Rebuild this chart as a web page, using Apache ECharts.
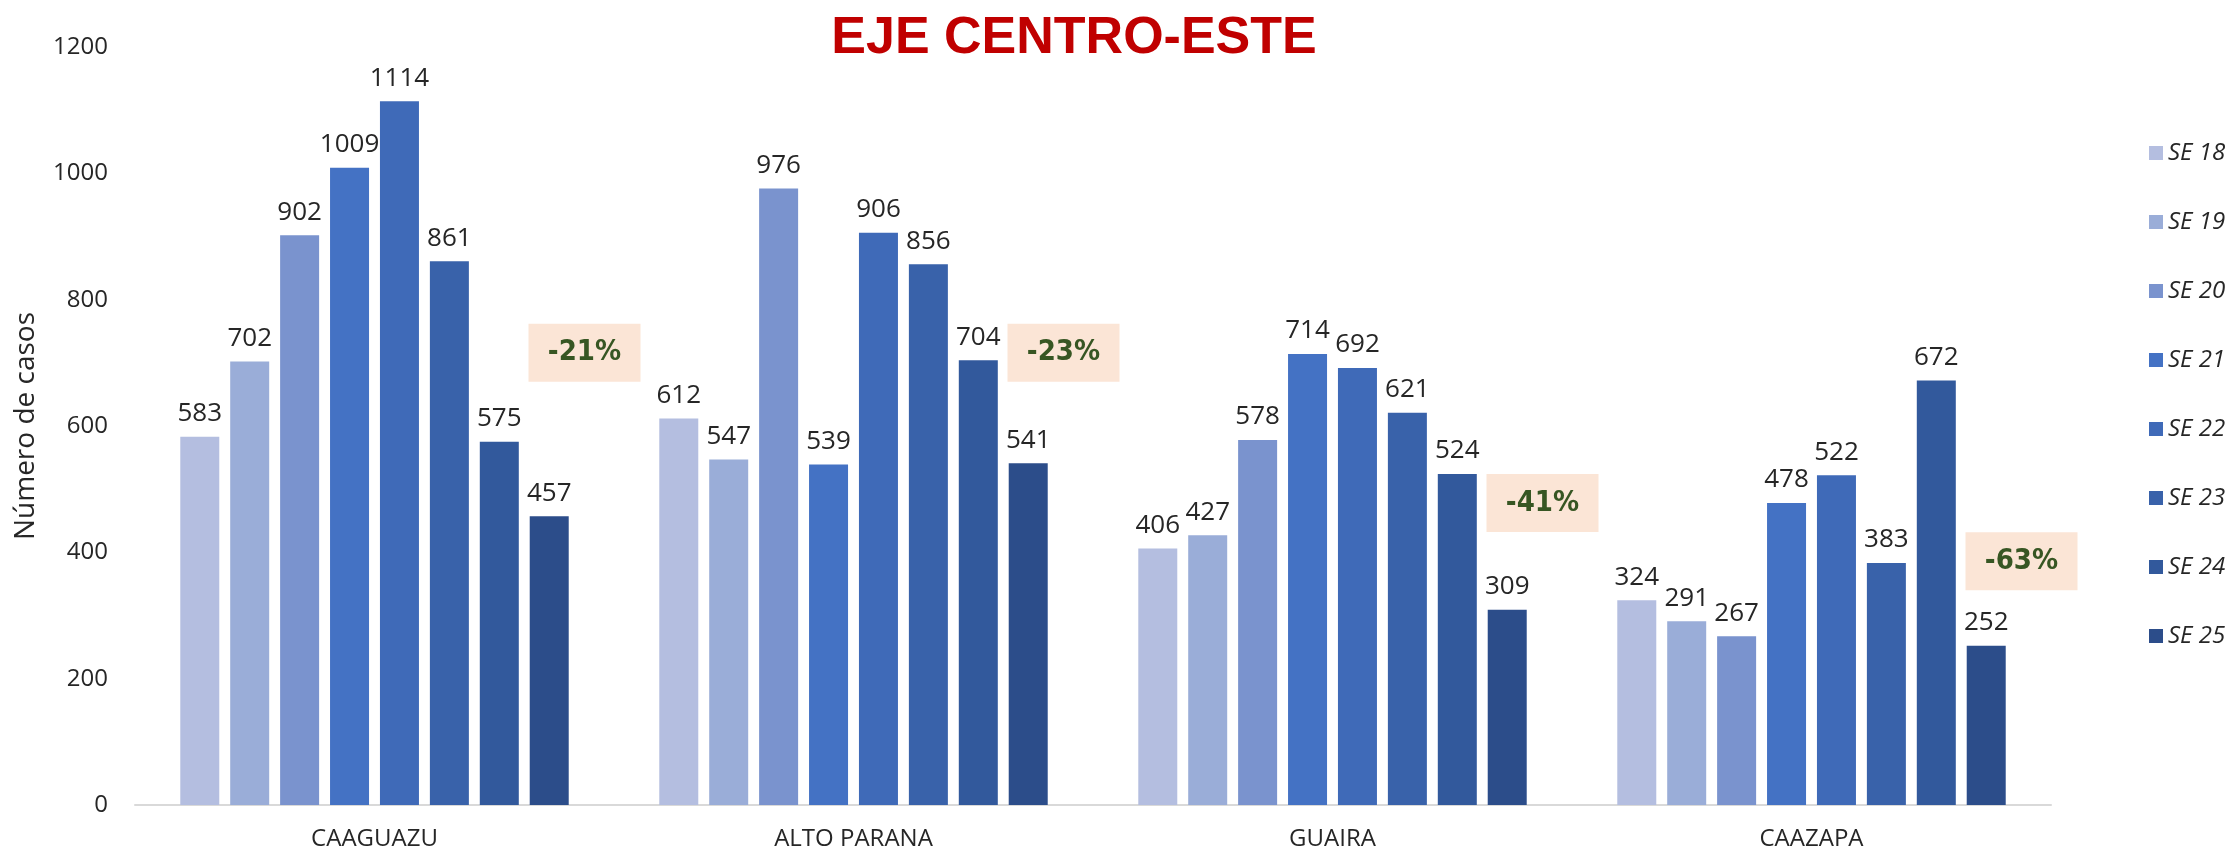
<!DOCTYPE html>
<html lang="es">
<head>
  <meta charset="UTF-8" />
  <title>EJE CENTRO-ESTE</title>
  <script src="https://cdn.jsdelivr.net/npm/echarts@6.0.0/dist/echarts.min.js"></script>
  <style>
    html, body { margin: 0; padding: 0; background: #fff; }
  </style>
</head>
<body>
  <div id="main" style="width: 2227px; height: 852px;"></div>

  <script>
    // departamentos
    const regions = ["CAAGUAZU", "ALTO PARANA", "GUAIRA", "CAAZAPA"];
    // semanas epidemiologicas
    const weeks = ["SE 18", "SE 19", "SE 20", "SE 21", "SE 22", "SE 23", "SE 24", "SE 25"];
    // casos por semana, una fila por region
    const caaguazu = [583, 702, 902, 1009, 1114, 861, 575, 457];
    const altoParana = [612, 547, 976, 539, 906, 856, 704, 541];
    const guaira = [406, 427, 578, 714, 692, 621, 524, 309];
    const caazapa = [324, 291, 267, 478, 522, 383, 672, 252];
    // variacion porcentual y altura (en casos) donde va la etiqueta
    const change = ["-21%", "-23%", "-41%", "-63%"];
    const boxAt = [716, 716, 478, 386];

    const weekColors = ["#B4BEE0", "#9AADD8", "#7A93CE", "#4472C4", "#3F6AB8", "#3962AA", "#32599C", "#2C4D8A"];

    const rows = [caaguazu, altoParana, guaira, caazapa];
    const txt = "#262626";
    const font = "'Open Sans', 'Noto Sans', sans-serif";

    const barSeries = weeks.map((w, i) => ({
      name: w,
      type: "bar",
      barWidth: 39,
      barGap: "28%",
      data: rows.map((r) => r[i]),
      itemStyle: { color: weekColors[i] },
      label: {
        show: true,
        position: "top",
        distance: 10,
        color: txt,
        fontFamily: font,
        fontSize: 26,
      },
    }));

    const myChart = echarts.init(document.getElementById("main"));
    myChart.setOption({
      animation: false,
      title: {
        text: "EJE CENTRO-ESTE",
        left: 1069,
        textAlign: "center",
        top: 8,
        textStyle: {
          color: "#C00000",
          fontFamily: "'Liberation Sans', Arial, sans-serif",
          fontWeight: "bold",
          fontSize: 52,
        },
      },
      legend: {
        data: weeks,
        orient: "vertical",
        left: 2144,
        top: 136,
        itemWidth: 14,
        itemHeight: 14,
        itemGap: 45,
        icon: "rect",
        textStyle: {
          color: txt,
          fontFamily: font,
          fontStyle: "italic",
          fontSize: 24,
        },
      },
      grid: { left: 135, right: 176, top: 47, bottom: 47, containLabel: false },
      xAxis: {
        type: "category",
        data: regions,
        axisTick: { show: false },
        axisLine: { lineStyle: { color: "#D9D9D9", width: 2 } },
        axisLabel: {
          color: txt,
          fontFamily: font,
          fontSize: 24,
          margin: 22,
        },
      },
      yAxis: {
        type: "value",
        min: 0,
        max: 1200,
        interval: 200,
        name: "Número de casos",
        nameLocation: "middle",
        nameGap: 95,
        nameTextStyle: { color: txt, fontFamily: font, fontSize: 28 },
        splitLine: { show: false },
        axisLine: { show: false },
        axisTick: { show: false },
        axisLabel: {
          color: txt,
          fontFamily: font,
          fontSize: 24,
          margin: 27,
          formatter: (v) => String(v),
        },
      },
      series: barSeries.concat([
        {
          name: "cambio",
          type: "scatter",
          symbol: "rect",
          symbolSize: [112, 58],
          symbolOffset: [210, 0],
          z: 5,
          itemStyle: { color: "#FBE5D6", opacity: 1 },
          data: regions.map((r, i) => ({ value: [r, boxAt[i]], label: { formatter: change[i] } })),
          label: {
            show: true,
            position: "inside",
            color: "#375623",
            fontFamily: "'Liberation Sans Narrow', 'DejaVu Sans Condensed', sans-serif",
            fontWeight: "bold",
            fontSize: 29,
          },
        },
      ]),
    });
  </script>
</body>
</html>
